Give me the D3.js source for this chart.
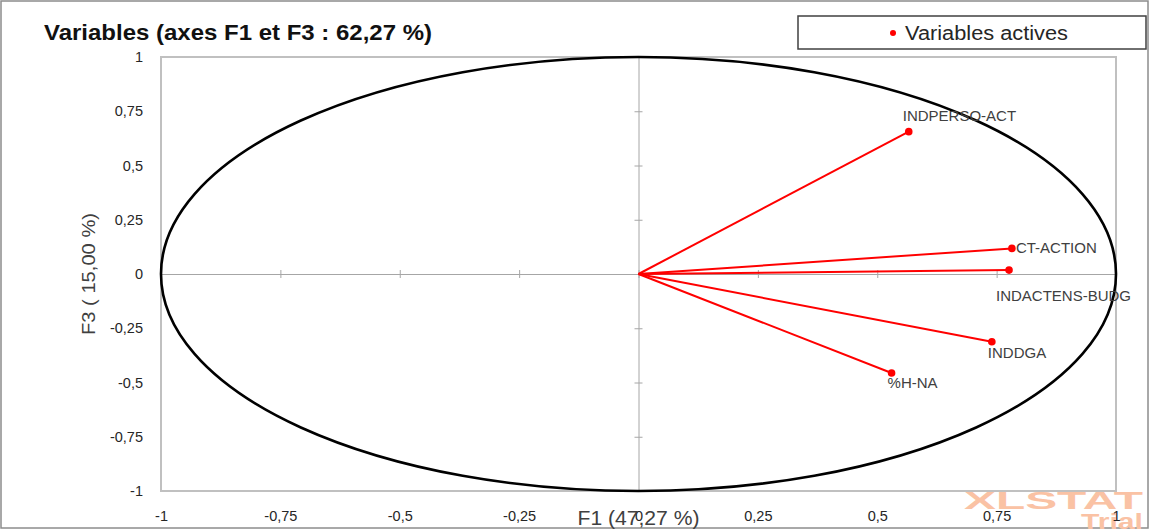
<!DOCTYPE html>
<html><head><meta charset="utf-8">
<script src="https://cdn.jsdelivr.net/npm/d3@7"></script>
<style>body{margin:0;background:#fff}svg{display:block}</style>
</head><body>
<svg id="c" width="1152" height="530"></svg>
<script>
const varNames = ["INDPERSO-ACT","CT-ACTION","INDACTENS-BUDG","INDDGA","%H-NA"];
const f1Values = [0.566, 0.782, 0.776, 0.740, 0.530];
const f3Values = [0.656, 0.118, 0.018, -0.312, -0.456];
const tickValues = [-1,-0.75,-0.5,-0.25,0,0.25,0.5,0.75,1];
const tickLabels = ["-1","-0,75","-0,5","-0,25","0","0,25","0,5","0,75","1"];
const titleText = "Variables (axes F1 et F3 : 62,27 %)";
const legendText = "Variables actives";
const xTitle = "F1 (47,27 %)";
const yTitle = "F3 ( 15,00 %)";

const svg = d3.select("#c");
const x = d3.scaleLinear().domain([-1,1]).range([161,1116]);
const y = d3.scaleLinear().domain([-1,1]).range([491,57]);
const fmt = v => tickLabels[tickValues.indexOf(v)];
const FONT = "Liberation Sans, Arial, sans-serif";

// outer frame
svg.append("rect").attr("x",1).attr("y",1).attr("width",1147).attr("height",527)
  .attr("fill","none").attr("stroke","#8c8c8c").attr("stroke-width",1.5);

// watermark (behind)
svg.append("text").attr("x",1143).attr("y",509).attr("text-anchor","end")
  .attr("font-family",FONT).attr("font-weight","bold").attr("font-size",24)
  .attr("textLength",179).attr("lengthAdjust","spacingAndGlyphs")
  .attr("fill","#fac2a4").text("XLSTAT");
svg.append("text").attr("x",1143).attr("y",529).attr("text-anchor","end")
  .attr("font-family",FONT).attr("font-weight","bold").attr("font-size",22)
  .attr("textLength",62).attr("lengthAdjust","spacingAndGlyphs")
  .attr("fill","#fac2a4").text("Trial");

// plot frame
svg.append("rect").attr("x",x(-1)).attr("y",y(1)).attr("width",x(1)-x(-1)).attr("height",y(-1)-y(1))
  .attr("fill","none").attr("stroke","#c0c0c0").attr("stroke-width",2);

// center axes with tick crosses
const gx = svg.append("g").attr("transform",`translate(0,${y(0)})`)
  .call(d3.axisBottom(x).tickValues(tickValues).tickFormat("").tickSize(4).tickSizeOuter(0));
gx.selectAll(".tick line").attr("y1",-4).attr("y2",4);
const gy = svg.append("g").attr("transform",`translate(${x(0)},0)`)
  .call(d3.axisLeft(y).tickValues(tickValues).tickFormat("").tickSize(4).tickSizeOuter(0));
gy.selectAll(".tick line").attr("x1",-4).attr("x2",4);
svg.selectAll(".domain, .tick line").attr("stroke","#a6a6a6").attr("stroke-width",1);

// outer axis labels
const gxl = svg.append("g").attr("transform",`translate(0,${y(-1)})`)
  .call(d3.axisBottom(x).tickValues(tickValues).tickFormat(fmt).tickSize(0).tickPadding(20));
const gyl = svg.append("g").attr("transform",`translate(${x(-1)},0)`)
  .call(d3.axisLeft(y).tickValues(tickValues).tickFormat(fmt).tickSize(0).tickPadding(18));
[gxl,gyl].forEach(g=>{g.select(".domain").remove();
  g.selectAll("text").attr("font-family",FONT).attr("font-size",14.5).attr("fill","#262626");});

// correlation circle
svg.append("ellipse").attr("cx",x(0)).attr("cy",y(0))
  .attr("rx",x(1)-x(0)).attr("ry",y(0)-y(1))
  .attr("fill","none").attr("stroke","#000").attr("stroke-width",2.6);

// vectors
const data = varNames.map((n,i)=>({n,f1:f1Values[i],f3:f3Values[i]}));
svg.append("g").selectAll("line").data(data).join("line")
  .attr("x1",x(0)).attr("y1",y(0)).attr("x2",d=>x(d.f1)).attr("y2",d=>y(d.f3))
  .attr("stroke","#ff0000").attr("stroke-width",2);
svg.append("g").selectAll("circle").data(data).join("circle")
  .attr("cx",d=>x(d.f1)).attr("cy",d=>y(d.f3)).attr("r",3.8).attr("fill","#ff0000");

// labels
const lblOff = {"INDPERSO-ACT":[-6,-11],"CT-ACTION":[4,5],"INDACTENS-BUDG":[-13,31],"INDDGA":[-4,16],"%H-NA":[-4,15]};
svg.append("g").selectAll("text").data(data).join("text")
  .attr("x",d=>x(d.f1)+lblOff[d.n][0]).attr("y",d=>y(d.f3)+lblOff[d.n][1])
  .attr("font-family",FONT).attr("font-size",15).attr("fill","#404040")
  .text(d=>d.n);

// axis titles
svg.append("text").attr("x",x(0)).attr("y",525).attr("text-anchor","middle")
  .attr("font-family",FONT).attr("font-size",20).attr("fill","#404040")
  .attr("textLength",122).attr("lengthAdjust","spacingAndGlyphs").text(xTitle);
svg.append("text").attr("transform",`translate(95,${y(0)}) rotate(-90)`).attr("text-anchor","middle")
  .attr("font-family",FONT).attr("font-size",19).attr("fill","#404040")
  .attr("textLength",122).attr("lengthAdjust","spacingAndGlyphs").text(yTitle);

// title
svg.append("text").attr("x",44).attr("y",40)
  .attr("font-family",FONT).attr("font-weight","bold")
  .attr("font-size",21.5).attr("fill","#111")
  .attr("textLength",388).attr("lengthAdjust","spacingAndGlyphs").text(titleText);

// legend
svg.append("rect").attr("x",798).attr("y",16).attr("width",348).attr("height",33)
  .attr("fill","#fff").attr("stroke","#404040").attr("stroke-width",1.5);
svg.append("circle").attr("cx",893).attr("cy",33).attr("r",3).attr("fill","#ff0000");
svg.append("text").attr("x",905).attr("y",40)
  .attr("font-family",FONT).attr("font-size",20).attr("fill","#262626")
  .attr("textLength",163).attr("lengthAdjust","spacingAndGlyphs").text(legendText);
</script>
</body></html>
